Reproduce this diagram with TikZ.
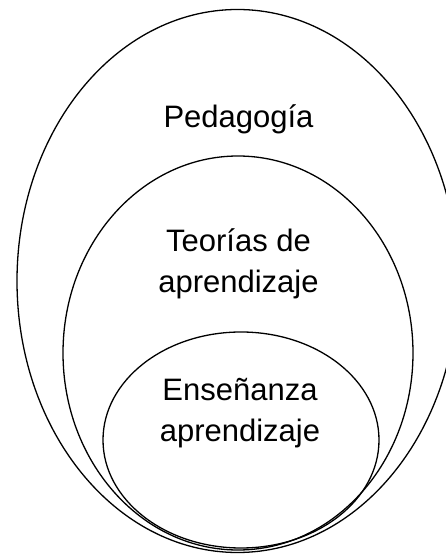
\documentclass[tikz,border=0pt]{standalone}
\usepackage{fontspec}
\setmainfont{Liberation Sans}
\begin{document}
\begin{tikzpicture}[x=1pt,y=1pt,
  ring/.style={draw=black,line width=1.3pt},
  lbl/.style={font=\fontsize{31}{41}\selectfont,align=center,anchor=base,inner sep=0pt}]
\useasboundingbox (0,0) rectangle (446,557);
\clip (0,0) rectangle (446,557);
\draw[ring] (237.5,276) ellipse [x radius=220.5, y radius=271.5];
\draw[ring] (238,204) ellipse [x radius=175, y radius=197];
\draw[ring] (241,117) ellipse [x radius=138, y radius=108];
\node[lbl] (ped) at (238.5,429) {Pedagogía};
\node[lbl] (teo) at (238.5,264) {Teorías de\\aprendizaje};
\node[lbl] (ens) at (240,115) {Enseñanza\\aprendizaje};
\end{tikzpicture}
\end{document}
